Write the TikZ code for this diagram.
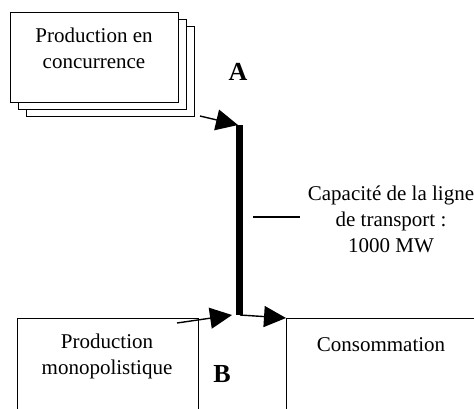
\documentclass[tikz,border=0pt]{standalone}
\usepackage{fontspec}
\setmainfont{Liberation Serif}
\usetikzlibrary{arrows.meta}
\begin{document}
\begin{tikzpicture}[x=1pt,y=-1pt,
  box/.style={draw, line width=1.4pt, fill=white, inner sep=0pt,
    minimum width=168pt, minimum height=90pt, anchor=north west},
  bigbox/.style={draw, line width=1.4pt, inner sep=0pt, anchor=north west},
  txt/.style={align=center, font=\fontsize{21}{26}\selectfont},
  letter/.style={font=\fontsize{26}{30}\selectfont\bfseries},
  arr/.style={line width=1.4pt, -{Triangle[length=22pt,width=21pt]}},
  link/.style={line width=7pt}]
\useasboundingbox (0,0) rectangle (474,408);

% stack of competing producers
\node[box] (back2) at (26,26) {};
\node[box] (back1) at (18,19) {};
\node[box] (front) at (10,12) {};
\node[txt] (conc) at (94,48) {Production en\\concurrence};

% lower boxes, running past the lower edge
\node[bigbox, minimum width=181pt, minimum height=120pt] (mono) at (17,318) {};
\node[txt] (monotxt) at (107,356) {Production\\monopolistique};
\node[bigbox, minimum width=210pt, minimum height=120pt] (cons) at (286,318) {};
\node[txt] (constxt) at (381,345) {Consommation};

% transmission line
\coordinate (ltop) at (239.5,125);
\coordinate (lbot) at (239.5,315);
\draw[link] (ltop) -- (lbot);

% flows
\coordinate (s1) at (200,116);
\coordinate (t1) at (238,125);
\draw[arr] (s1) -- (t1);
\coordinate (s2) at (177,323);
\coordinate (t2) at (232,315);
\draw[arr] (s2) -- (t2);
\coordinate (s3) at (240,315);
\draw[arr] (s3) -- (cons.north west);

% capacity label
\coordinate (c1) at (253,217);
\coordinate (c2) at (300,217);
\draw[line width=1.4pt] (c1) -- (c2);
\node[txt] (cap) at (391,219) {Capacité de la ligne\\de transport :\\1000 MW};

% node letters
\node[letter] (A) at (238,72) {A};
\node[letter] (B) at (222,374) {B};
\end{tikzpicture}
\end{document}
